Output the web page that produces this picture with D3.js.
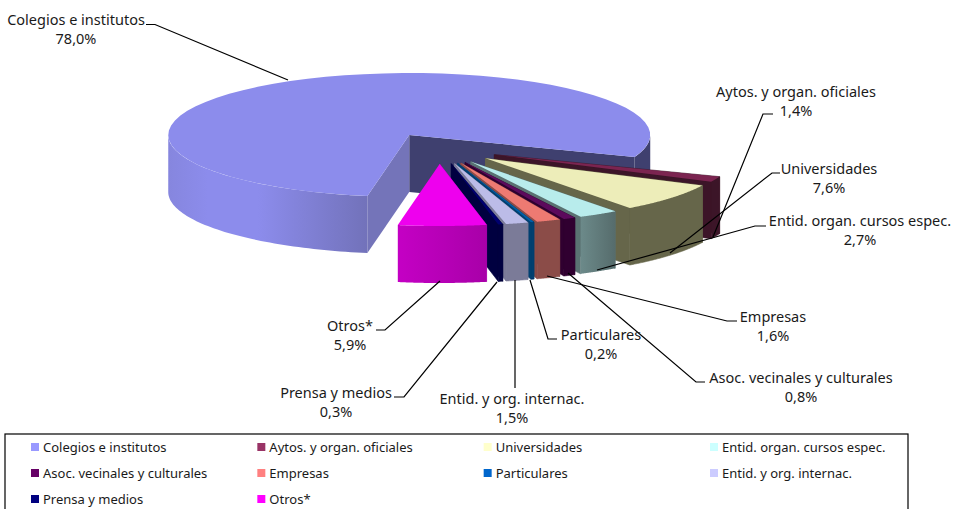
<!DOCTYPE html>
<html><head><meta charset="utf-8">
<script src="https://cdnjs.cloudflare.com/ajax/libs/d3/7.8.5/d3.min.js"></script>
<style>html,body{margin:0;padding:0;background:#fff}svg{display:block}text{font-family:"Noto Sans",sans-serif;fill:#1a1a1a}</style>
</head><body><svg id="c" width="953" height="509"></svg>
<script>
const categories = ["Colegios e institutos","Aytos. y organ. oficiales","Universidades","Entid. organ. cursos espec.","Asoc. vecinales y culturales","Empresas","Particulares","Entid. y org. internac.","Prensa y medios","Otros*"];
const values = [78.0,1.4,7.6,2.7,0.8,1.6,0.2,1.5,0.3,5.9];
const legendColors = ["#9999ff","#993366","#ffffcc","#ccffff","#660066","#ff8080","#0066cc","#ccccff","#000080","#ff00ff"];
const topColors = ["#8c8cec","#7b2450","#ededb9","#b8ecec","#5c0a5c","#ee7a72","#0060a8","#bcbce8","#000070","#ee00ee"];
const rimColors = ["#8888e0","#3c1528","#66664a","#5a7272","#300030","#8b4c48","#004070","#7b7b98","#000040","#b800b8"];
const wallColors = ["#3f406f","#3c1528","#66664a","#5a7272","#300030","#8b4c48","#004070","#7b7b98","#000040","#b800b8"];
// label layout: centre x, first baseline, line step, leader polyline
const labelLayout = [
 {x:76,y:25,l:[[146,24.5],[155,24.5],[288,80]]},
 {x:796,y:97,l:[[773,114],[763,114],[713,237]]},
 {x:829,y:174,l:[[780,173],[772,173],[670,253]]},
 {x:860,y:226,l:[[766,226],[755,226],[597,270]]},
 {x:801,y:383,l:[[705,382],[696,382],[568,273]]},
 {x:773,y:322,l:[[737,321],[727,321],[547,276]]},
 {x:601,y:340,l:[[557,339],[548,339],[530,280]]},
 {x:512,y:404,l:[[515,388],[515,280]]},
 {x:336,y:398,l:[[394,397],[404,397],[497,282]]},
 {x:350,y:331,l:[[376,330],[385,330],[440,281]]}
];
const svg=d3.select("#c");
const TAU=Math.PI*2, START=190/360*TAU, EXPLODE=0.25, DEPTH=57;
const pie=d3.pie().sort(null).value(d=>d).startAngle(START).endAngle(START+TAU);
const arcs=pie(values);
const sx=d3.scaleLinear().domain([-1,1]).range([-241,241]);   // disc x
const sy=d3.scaleLinear().domain([-1,1]).range([62,-62]);     // disc depth (+1 = back)
const cx=439, cy=148.5;
function apex(a){const m=(a.startAngle+a.endAngle)/2;return [cx+EXPLODE*sx(Math.sin(m)),cy+EXPLODE*sy(Math.cos(m))];}
function pt(a,t,z){const o=apex(a);return [o[0]+sx(Math.sin(t)),o[1]+sy(Math.cos(t))+(z?DEPTH:0)];}
function rimPts(a,t0,t1,z){return d3.range(0,61).map(i=>pt(a,t0+(t1-t0)*i/60,z));}
const line=d3.line();
const defs=svg.append("defs");
function grad(id,stops){const g=defs.append("linearGradient").attr("id",id).attr("gradientUnits","objectBoundingBox");
 stops.forEach(s=>g.append("stop").attr("offset",s[0]).attr("stop-color",s[1]));return `url(#${id})`;}
const bigSide=grad("bigSide",[[0,"#8686de"],[0.2,"#8c8cec"],[0.45,"#8c8cec"],[1,"#7272ba"]]);
const otrosSide=grad("otrosSide",[[0,"#c400c4"],[0.6,"#b400b4"],[1,"#a800a8"]]);
const cursosSide=grad("cursosSide",[[0,"#6c8a8a"],[1,"#566c6c"]]);
const g=svg.append("g");
function face(pts,fill,seam){const p=g.append("path").attr("d",line(pts)+"Z").attr("fill",fill);
 if(seam) p.attr("stroke",seam).attr("stroke-width",0.6).attr("stroke-linejoin","round");}
arcs.forEach((a,i)=>{
 const o=apex(a), s=pt(a,a.startAngle), e=pt(a,a.endAngle);
 const o2=[o[0],o[1]+DEPTH], s2=pt(a,a.startAngle,1), e2=pt(a,a.endAngle,1);
 if(i===0){
   face([o,e,e2,o2],wallColors[0]);
   face([o,s,s2,o2],"#7474b9");
   const t0=a.startAngle, t1=1.5*Math.PI;
   face(rimPts(a,t0,t1).concat(rimPts(a,t1,t0,1)),bigSide);
   const t2=2.5*Math.PI, t3=a.endAngle;
   face(rimPts(a,t2,t3).concat(rimPts(a,t3,t2,1)),wallColors[0]);
 } else {
   face([o,s,s2,o2],wallColors[i],wallColors[i]);
   if(i!==values.length-1) face([o,e,e2,o2],wallColors[i],wallColors[i]);
   face(rimPts(a,a.startAngle,a.endAngle).concat(rimPts(a,a.endAngle,a.startAngle,1)),
        i===9?otrosSide:i===3?cursosSide:rimColors[i], i===9||i===3?null:rimColors[i]);
 }
 face([o].concat(rimPts(a,a.startAngle,a.endAngle)),topColors[i]);
});
// leaders and labels
const lab=svg.append("g");
categories.forEach((c,i)=>{
 const L=labelLayout[i];
 lab.append("path").attr("d",line(L.l)).attr("fill","none").attr("stroke","#000").attr("stroke-width",1.2);
 const t=lab.append("text").attr("x",L.x).attr("y",L.y).attr("text-anchor","middle").attr("font-size",14.5);
 t.append("tspan").attr("x",L.x).text(c);
 t.append("tspan").attr("x",L.x).attr("dy",18.5).text(values[i].toFixed(1).replace(".",",")+"%");
});
// legend
const lg=svg.append("g");
lg.append("rect").attr("x",5).attr("y",434).attr("width",903).attr("height",90).attr("fill","#fff").attr("stroke","#000").attr("stroke-width",1.2);
const colX=d3.scalePoint().domain([0,1,2,3]).range([31,710]);
const rowY=d3.scalePoint().domain([0,1,2]).range([447,499]);
categories.forEach((c,i)=>{
 const x=colX(i%4), y=rowY(Math.floor(i/4));
 lg.append("rect").attr("x",x).attr("y",y-4).attr("width",8).attr("height",8).attr("fill",legendColors[i]);
 lg.append("text").attr("x",x+12).attr("y",y+5).attr("font-size",13).text(c);
});
</script></body></html>
